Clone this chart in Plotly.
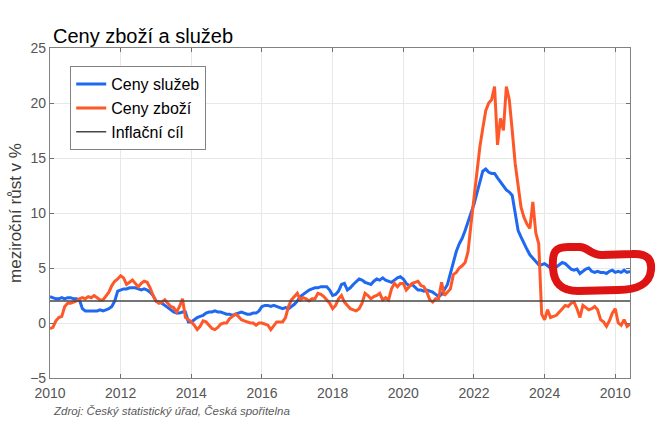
import numpy as np
import plotly.graph_objects as go

# monthly year-on-year growth, Jan 2010 - Jun 2026
sluzby = [
    2.4, 2.3, 2.2, 2.2, 2.3, 2.2, 2.3, 2.3, 2.2, 2.2, 2.1, 1.3,   # 2010
    1.1, 1.1, 1.1, 1.1, 1.1, 1.2, 1.1, 1.2, 1.3, 1.5, 2.0, 2.9,   # 2011
    3.0, 3.1, 3.1, 3.2, 3.2, 3.2, 3.1, 3.0, 3.1, 3.0, 2.8, 2.5,   # 2012
    2.0, 1.9, 1.8, 1.6, 1.4, 1.2, 1.0, 0.9, 0.9, 1.0, 1.0, 0.1,   # 2013
    0.1, 0.3, 0.5, 0.6, 0.7, 0.9, 1.0, 1.0, 1.1, 1.0, 1.0, 0.9,   # 2014
    0.8, 0.8, 0.7, 0.8, 0.9, 1.0, 0.9, 0.8, 0.8, 0.9, 0.9, 1.1,   # 2015
    1.5, 1.6, 1.6, 1.5, 1.6, 1.5, 1.4, 1.3, 1.4, 1.3, 1.5, 1.7,   # 2016
    2.0, 2.4, 2.6, 2.8, 3.0, 3.1, 3.2, 3.2, 3.3, 3.3, 3.3, 3.0,   # 2017
    2.5, 2.6, 2.9, 3.5, 3.6, 3.0, 3.2, 3.5, 3.8, 4.0, 3.9, 3.7,   # 2018
    3.6, 3.5, 3.8, 4.0, 3.9, 4.1, 3.9, 3.8, 3.7, 3.9, 4.1, 4.2,   # 2019
    4.0, 3.6, 3.4, 3.5, 3.2, 3.0, 3.0, 2.9, 3.0, 2.9, 2.8, 2.6,   # 2020
    2.4, 2.6, 3.0, 3.5, 4.5, 5.6, 6.5, 7.2, 7.7, 8.4, 9.3, 10.0,  # 2021
    10.8, 11.8, 12.8, 13.8, 14.0, 13.7, 13.6, 13.6, 13.2, 12.8, 12.5, 12.1,  # 2022
    11.9, 11.6, 10.0, 8.4, 7.8, 7.2, 6.7, 6.2, 5.9, 5.5, 5.3, 5.3,  # 2023
    5.4, 5.2, 5.0, 5.0, 5.1, 5.3, 5.5, 5.4, 5.1, 4.9, 4.8, 4.9,   # 2024
    4.5, 4.7, 4.9, 5.0, 4.7, 4.6, 4.7, 4.6, 4.6, 4.5, 4.7, 4.8,   # 2025
    4.6, 4.7, 4.6, 4.8, 4.6, 4.7,                                 # 2026
]
zbozi = [
    -0.5, -0.4, 0.2, 0.5, 0.6, 1.5, 1.8, 1.8, 1.9, 2.0, 2.2, 2.3,  # 2010
    2.2, 2.4, 2.3, 2.5, 2.3, 2.1, 2.1, 2.5, 2.8, 3.4, 3.8, 4.0,    # 2011
    4.3, 4.1, 3.5, 3.7, 3.9, 3.6, 3.3, 3.6, 3.8, 3.7, 3.2, 2.5,    # 2012
    2.0, 1.8, 1.9, 2.1, 1.8, 1.5, 1.4, 1.0, 1.5, 2.2, 0.5, 0.3,    # 2013
    0.1, -0.2, -0.6, -0.3, 0.2, 0.1, -0.2, -0.5, -0.6, -0.4, -0.1, 0.0,  # 2014
    0.0, 0.4, 0.6, 0.8, 0.6, 0.3, 0.2, 0.1, 0.0, 0.0, -0.2, 0.0,   # 2015
    0.0, -0.1, -0.2, -0.6, -0.3, 0.1, 0.1, 0.1, 0.5, 1.5, 2.1, 2.4,  # 2016
    2.7, 2.1, 2.3, 2.2, 2.0, 2.2, 2.2, 2.7, 2.6, 2.4, 2.1, 1.8,    # 2017
    1.3, 1.6, 2.2, 2.5, 1.9, 1.6, 1.3, 1.2, 1.1, 1.3, 1.8, 2.7,    # 2018
    2.5, 2.2, 2.4, 2.5, 2.7, 2.1, 2.3, 2.1, 3.1, 3.6, 3.3, 3.6,    # 2019
    3.6, 3.0, 3.3, 3.6, 3.7, 3.8, 3.4, 3.3, 2.8, 2.1, 1.9, 2.2,    # 2020
    2.2, 3.7, 2.5, 2.8, 3.1, 4.4, 4.6, 5.0, 5.2, 5.5, 6.5, 9.0,    # 2021
    11.5, 14.0, 16.0, 17.7, 19.3, 20.0, 20.3, 21.5, 16.2, 18.6, 17.5, 21.5,  # 2022
    20.3, 17.5, 14.5, 12.5, 10.5, 9.6, 9.0, 8.6, 11.0, 8.2, 7.2, 0.8,  # 2023
    0.3, 1.2, 0.5, 0.6, 0.7, 1.0, 1.3, 1.6, 1.5, 1.8, 1.9, 1.3,    # 2024
    0.5, 1.6, 1.4, 1.2, 1.3, 1.5, 1.2, 0.3, 0.1, -0.3, 0.2, 0.9,   # 2025
    1.3, 0.0, -0.2, 0.3, -0.3, -0.1,                               # 2026
]
inflacni_cil = 2.0

tick_vals = [2010, 2012, 2014, 2016, 2018, 2020, 2022, 2024, 2026]
tick_text = ["2010", "2012", "2014", "2016", "2018", "2020", "2022", "2024", "2010"]

x = 2010 + np.arange(len(sluzby)) / 12.0

fig = go.Figure()
fig.add_trace(go.Scatter(x=x, y=sluzby, name="Ceny služeb", mode="lines",
                         line=dict(color="rgb(30,105,240)", width=3)))
fig.add_trace(go.Scatter(x=x, y=zbozi, name="Ceny zboží", mode="lines",
                         line=dict(color="rgb(255,88,40)", width=3)))
fig.add_trace(go.Scatter(x=[x[0], x[-1]], y=[inflacni_cil, inflacni_cil],
                         name="Inflační cíl", mode="lines",
                         line=dict(color="rgb(70,70,70)", width=1.5)))

# plot area in pixels: x 50..630, y 48..378
L, R, T, B = 50, 630, 48, 378
def pp(px, py):
    return (px - L) / (R - L), (B - py) / (B - T)

def pt(px, py):
    return "%.4f,%.4f" % pp(px, py)

# hand drawn red loop around the recent services data
path = ("M " + pt(553, 268)
        + " C " + pt(552, 252) + " " + pt(555, 247) + " " + pt(568, 247)
        + " L " + pt(580, 247)
        + " C " + pt(588, 247) + " " + pt(590, 255) + " " + pt(602, 255)
        + " L " + pt(632, 254)
        + " C " + pt(648, 253) + " " + pt(652, 260) + " " + pt(651, 270)
        + " C " + pt(650, 283) + " " + pt(638, 290) + " " + pt(618, 290)
        + " L " + pt(578, 291)
        + " C " + pt(562, 291) + " " + pt(554, 284) + " " + pt(553, 268)
        + " Z")

axis_common = dict(showline=True, linecolor="rgb(130,130,130)", linewidth=1.2,
                   mirror="allticks", ticks="inside", ticklen=4,
                   tickcolor="rgb(110,110,110)", showgrid=True,
                   gridcolor="rgb(232,232,232)", zeroline=False, automargin=False,
                   tickfont=dict(size=14, color="rgb(85,85,85)"))

fig.update_layout(
    width=667, height=431,
    margin=dict(l=L, r=667 - R, t=T, b=431 - B),
    paper_bgcolor="white", plot_bgcolor="white",
    font=dict(family="Liberation Sans, Arial, sans-serif"),
    xaxis=dict(range=[2010, x[-1]], tickvals=tick_vals, ticktext=tick_text,
               ticklabelstandoff=2, **axis_common),
    yaxis=dict(range=[-5, 25], dtick=5,
               title=dict(text="meziroční růst v %", standoff=4,
                          font=dict(size=17, color="rgb(60,60,60)")),
               **axis_common),
    legend=dict(x=pp(70, 0)[0], y=pp(0, 66)[1], xanchor="left", yanchor="top",
                bgcolor="white", bordercolor="rgb(130,130,130)", borderwidth=1.2,
                font=dict(size=16, color="black"), tracegroupgap=0),
    shapes=[dict(type="path", path=path, xref="paper", yref="paper",
                 line=dict(color="rgb(222,20,20)", width=8), layer="above")],
    annotations=[
        dict(text="Ceny zboží a služeb", xref="paper", yref="paper",
             x=pp(51, 0)[0], y=pp(0, 36)[1], xanchor="left", yanchor="middle",
             showarrow=False, font=dict(size=20, color="black")),
        dict(text="<i>Zdroj: Český statistický úřad, Česká spořitelna</i>",
             xref="paper", yref="paper", x=pp(51, 0)[0], y=pp(0, 411)[1],
             xanchor="left", yanchor="middle", showarrow=False,
             font=dict(size=11.5, color="rgb(90,90,90)")),
    ],
    showlegend=True,
)

# page has a default body margin; drop it so the figure sits at the window corner
fig.write_html("out.html", config={"displayModeBar": False},
               post_script="document.body.style.margin='0px';")
